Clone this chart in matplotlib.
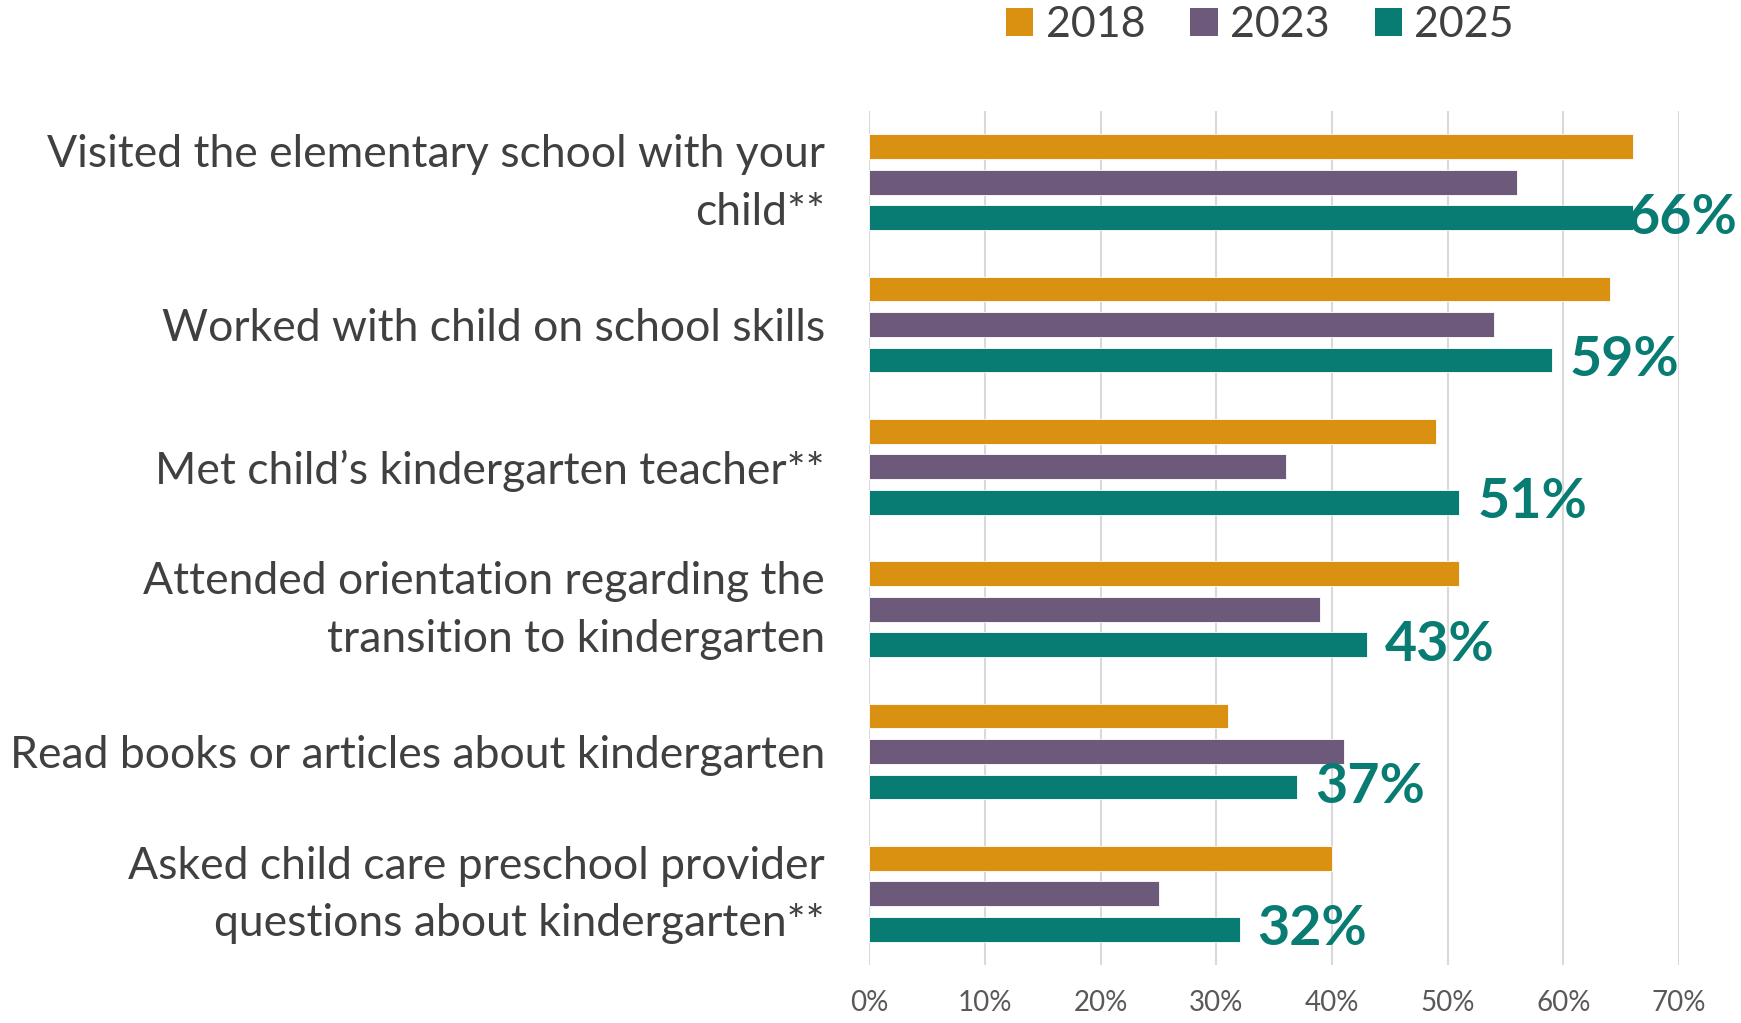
import matplotlib
matplotlib.use("Agg")
import matplotlib.pyplot as plt
import matplotlib.transforms as mtransforms
from matplotlib.patches import Patch
import numpy as np

# Survey items and share of families reporting each activity, by year
categories = [
    "Visited the elementary school with your\nchild**",
    "Worked with child on school skills",
    "Met child\u2019s kindergarten teacher**",
    "Attended orientation regarding the\ntransition to kindergarten",
    "Read books or articles about kindergarten",
    "Asked child care preschool provider\nquestions about kindergarten**",
]
years = ["2018", "2023", "2025"]
v2018 = [66, 64, 49, 51, 31, 40]
v2023 = [56, 54, 36, 39, 41, 25]
v2025 = [66, 59, 51, 43, 37, 32]
x_ticks = [0, 10, 20, 30, 40, 50, 60, 70]
x_tick_labels = ["0%", "10%", "20%", "30%", "40%", "50%", "60%", "70%"]

colors = {"2018": "#DA9010", "2023": "#6D5A7B", "2025": "#087B73"}
text_dark = "#404040"
tick_gray = "#595959"
grid_gray = "#D9D9D9"
font = ["Lato", "DejaVu Sans"]

plt.rcParams["font.family"] = font

W, H, DPI = 1741, 1023, 100
fig = plt.figure(figsize=(W / DPI, H / DPI), dpi=DPI)
ax = fig.add_axes([869.4 / W, 1 - 965 / H, (1679 - 869.4) / W, (965 - 111) / H])

y = np.arange(len(categories))
step = 0.25
bar_h = 0.174
series = [("2018", v2018, -step), ("2023", v2023, 0.0), ("2025", v2025, step)]
for name, vals, off in series:
    ax.barh(y + off, vals, height=bar_h, color=colors[name],
            edgecolor="white", linewidth=0.6, zorder=3)

ax.set_xlim(0, 70)
ax.set_ylim(len(categories) - 0.5, -0.5)

ax.set_xticks(x_ticks)
ax.set_xticklabels(x_tick_labels, fontsize=20, color=tick_gray)
ax.set_yticks(y)
ax.set_yticklabels(categories, fontsize=32, color=text_dark, linespacing=1.5)
ax.tick_params(axis="x", length=0, pad=18)
ax.tick_params(axis="y", length=0, pad=32)

# Centre the two-line category labels on their bar group
lift = mtransforms.ScaledTranslation(0, 11 / DPI, fig.dpi_scale_trans)
for lbl in ax.get_yticklabels():
    if "\n" in lbl.get_text():
        lbl.set_transform(lbl.get_transform() + lift)

ax.grid(axis="x", color=grid_gray, linewidth=1.5, zorder=0)
ax.set_axisbelow(True)
for s in ax.spines.values():
    s.set_visible(False)

# Value labels for the latest year, kept inside the figure
labels = []
for yi, v in zip(y, v2025):
    t = ax.annotate(f"{v}%", xy=(v, yi + step), xytext=(13, 0),
                    textcoords="offset points", ha="left", va="center",
                    fontsize=40, fontweight="bold", color=colors["2025"],
                    annotation_clip=False, zorder=4)
    labels.append(t)

fig.canvas.draw()
renderer = fig.canvas.get_renderer()
for t in labels:
    bb = t.get_window_extent(renderer)
    over = bb.x1 - (W - 3)
    if over > 0:
        dx, dy = t.xyann
        t.xyann = (dx - over * 72 / DPI, dy)

handles = [Patch(facecolor=colors[yr], edgecolor="none", label=yr) for yr in years]
fig.legend(handles=handles, loc="center", bbox_to_anchor=(1260 / W, 1 - 25 / H),
           ncol=3, frameon=False, fontsize=31, handlelength=0.64, handleheight=0.64,
           handletextpad=0.28, columnspacing=1.05, labelcolor=text_dark,
           borderaxespad=0, borderpad=0)

fig.savefig("out.png", dpi=DPI, facecolor="white")
